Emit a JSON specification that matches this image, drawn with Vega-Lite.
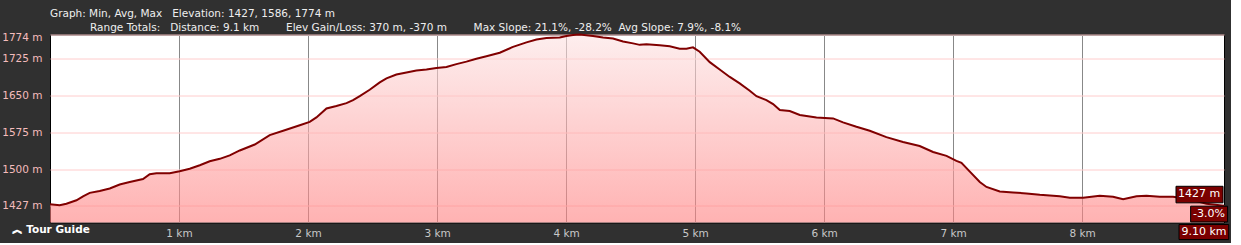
{
  "$schema": "https://vega.github.io/schema/vega-lite/v6.json",
  "width": 1174,
  "height": 188,
  "padding": {"left": 0, "top": 8.5, "right": 0, "bottom": 0},
  "background": "#303030",
  "config": {
    "view": {"fill": "white", "stroke": "#000000", "strokeWidth": 1},
    "font": "DejaVu Sans"
  },
  "title": {
    "text": "Graph: Min, Avg, Max\u00a0\u00a0\u00a0Elevation: 1427, 1586, 1774 m",
    "subtitle": "\u200b\u00a0\u00a0\u00a0\u00a0\u00a0\u00a0\u00a0\u00a0\u00a0\u00a0\u00a0\u00a0Range Totals:\u00a0\u00a0\u00a0Distance: 9.1 km\u00a0\u00a0\u00a0\u00a0\u00a0\u00a0\u00a0\u00a0Elev Gain/Loss: 370 m, -370 m\u00a0\u00a0\u00a0\u00a0\u00a0\u00a0\u00a0\u00a0Max Slope: 21.1%, -28.2%\u00a0\u00a0Avg Slope: 7.9%, -8.1%",
    "anchor": "start",
    "frame": "group",
    "font": "DejaVu Sans",
    "fontSize": 10.5,
    "fontWeight": "normal",
    "color": "#eeeeee",
    "subtitleFont": "DejaVu Sans",
    "subtitleFontSize": 10.5,
    "subtitleColor": "#eeeeee",
    "subtitlePadding": 3.5,
    "offset": -3
  },
  "data": {
    "values": [
      {"km": 0, "elev": 1430}, {"km": 0.075, "elev": 1428}, {"km": 0.127, "elev": 1431}, {"km": 0.205, "elev": 1438},
      {"km": 0.256, "elev": 1446}, {"km": 0.308, "elev": 1453}, {"km": 0.385, "elev": 1457}, {"km": 0.463, "elev": 1462},
      {"km": 0.54, "elev": 1470}, {"km": 0.618, "elev": 1475}, {"km": 0.721, "elev": 1481}, {"km": 0.773, "elev": 1491},
      {"km": 0.825, "elev": 1493}, {"km": 0.928, "elev": 1493}, {"km": 1.005, "elev": 1497}, {"km": 1.083, "elev": 1502},
      {"km": 1.161, "elev": 1509}, {"km": 1.238, "elev": 1517}, {"km": 1.316, "elev": 1522}, {"km": 1.393, "elev": 1529},
      {"km": 1.471, "elev": 1539}, {"km": 1.587, "elev": 1551}, {"km": 1.703, "elev": 1570}, {"km": 1.819, "elev": 1580},
      {"km": 1.936, "elev": 1590}, {"km": 2.013, "elev": 1597}, {"km": 2.065, "elev": 1606}, {"km": 2.143, "elev": 1624},
      {"km": 2.22, "elev": 1629}, {"km": 2.298, "elev": 1635}, {"km": 2.349, "elev": 1641}, {"km": 2.401, "elev": 1649},
      {"km": 2.478, "elev": 1662}, {"km": 2.556, "elev": 1677}, {"km": 2.608, "elev": 1685}, {"km": 2.685, "elev": 1693},
      {"km": 2.763, "elev": 1697}, {"km": 2.84, "elev": 1701}, {"km": 2.918, "elev": 1703}, {"km": 2.995, "elev": 1706},
      {"km": 3.073, "elev": 1708}, {"km": 3.15, "elev": 1714}, {"km": 3.228, "elev": 1719}, {"km": 3.305, "elev": 1725},
      {"km": 3.383, "elev": 1730}, {"km": 3.486, "elev": 1737}, {"km": 3.589, "elev": 1749}, {"km": 3.693, "elev": 1758},
      {"km": 3.771, "elev": 1764}, {"km": 3.848, "elev": 1767}, {"km": 3.951, "elev": 1768}, {"km": 4.003, "elev": 1771},
      {"km": 4.054, "elev": 1773}, {"km": 4.106, "elev": 1774}, {"km": 4.209, "elev": 1771}, {"km": 4.287, "elev": 1768},
      {"km": 4.364, "elev": 1766}, {"km": 4.442, "elev": 1760}, {"km": 4.519, "elev": 1756}, {"km": 4.571, "elev": 1753},
      {"km": 4.623, "elev": 1754}, {"km": 4.726, "elev": 1752}, {"km": 4.804, "elev": 1750}, {"km": 4.881, "elev": 1745},
      {"km": 4.933, "elev": 1745}, {"km": 4.984, "elev": 1748}, {"km": 5.036, "elev": 1739}, {"km": 5.114, "elev": 1718},
      {"km": 5.191, "elev": 1703}, {"km": 5.269, "elev": 1688}, {"km": 5.346, "elev": 1675}, {"km": 5.424, "elev": 1660},
      {"km": 5.476, "elev": 1649}, {"km": 5.553, "elev": 1641}, {"km": 5.605, "elev": 1633}, {"km": 5.657, "elev": 1621},
      {"km": 5.734, "elev": 1619}, {"km": 5.812, "elev": 1611}, {"km": 5.941, "elev": 1606}, {"km": 6.07, "elev": 1604},
      {"km": 6.147, "elev": 1596}, {"km": 6.251, "elev": 1587}, {"km": 6.354, "elev": 1579}, {"km": 6.483, "elev": 1566},
      {"km": 6.612, "elev": 1556}, {"km": 6.741, "elev": 1548}, {"km": 6.845, "elev": 1536}, {"km": 6.949, "elev": 1528},
      {"km": 7.026, "elev": 1518}, {"km": 7.065, "elev": 1514}, {"km": 7.13, "elev": 1496}, {"km": 7.207, "elev": 1475},
      {"km": 7.259, "elev": 1465}, {"km": 7.362, "elev": 1456}, {"km": 7.465, "elev": 1454}, {"km": 7.569, "elev": 1452},
      {"km": 7.672, "elev": 1449}, {"km": 7.827, "elev": 1446}, {"km": 7.905, "elev": 1443}, {"km": 8.008, "elev": 1443},
      {"km": 8.137, "elev": 1447}, {"km": 8.24, "elev": 1445}, {"km": 8.318, "elev": 1440}, {"km": 8.422, "elev": 1446},
      {"km": 8.499, "elev": 1447}, {"km": 8.602, "elev": 1445}, {"km": 8.705, "elev": 1445}, {"km": 8.835, "elev": 1440},
      {"km": 8.964, "elev": 1431}, {"km": 9.1, "elev": 1427}
    ]
  },
  "encoding": {
    "x": {
      "field": "km",
      "type": "quantitative",
      "scale": {"domain": [0, 9.1], "nice": false, "zero": false},
      "axis": {
        "values": [1, 2, 3, 4, 5, 6, 7, 8],
        "labelExpr": "datum.value + ' km'",
        "domain": false,
        "ticks": false,
        "grid": true,
        "gridColor": "#888888",
        "gridWidth": 1,
        "labelColor": "#c8c8c8",
        "labelFont": "DejaVu Sans",
        "labelFontSize": 10.5,
        "labelPadding": 6,
        "title": "\ufe3d Tour Guide",
        "titleX": -39,
        "titleY": 7,
        "titleAlign": "left",
        "titleBaseline": "middle",
        "titleColor": "#ffffff",
        "titleFont": "DejaVu Sans",
        "titleFontWeight": "bold",
        "titleFontSize": 10.5
      }
    },
    "y": {
      "field": "elev",
      "type": "quantitative",
      "scale": {"domain": [1393, 1774], "nice": false, "zero": false},
      "axis": {
        "values": [1427, 1500, 1575, 1650, 1725, 1774],
        "labelExpr": "datum.value + ' m'",
        "title": null,
        "domain": false,
        "ticks": false,
        "grid": true,
        "gridColor": "#ffcccc",
        "gridWidth": 1,
        "labelColor": "#f4bcbc",
        "labelFont": "DejaVu Sans",
        "labelFontSize": 10.5,
        "labelPadding": 8,
        "labelFlush": 2,
        "labelFlushOffset": 2,
        "minExtent": 50,
        "maxExtent": 50
      }
    }
  },
  "layer": [
    {
      "mark": {
        "type": "area",
        "interpolate": "linear",
        "fillOpacity": 0.6,
        "color": {
          "gradient": "linear",
          "x1": 0, "y1": 0, "x2": 0, "y2": 1,
          "stops": [
            {"offset": 0, "color": "#fce3e3"},
            {"offset": 1, "color": "#ff7f7f"}
          ]
        },
        "line": {"color": "#800000", "strokeWidth": 2}
      },
      "encoding": {
        "y2": {"datum": 1393}
      }
    },
    {
      "transform": [{"filter": "datum.km == 9.1"}],
      "mark": {
        "type": "point",
        "shape": "M-2,-0.81H-0.04V-0.12H-2Z M-1.39,0.02H0.15V0.675H-1.39Z M-1.875,0.783H0.196V1.41H-1.875Z",
        "size": 2304,
        "filled": true,
        "fill": "#7a0000",
        "stroke": "#000000",
        "strokeWidth": 1,
        "opacity": 1
      }
    },
    {
      "transform": [{"filter": "datum.km == 9.1"}],
      "mark": {"type": "text", "text": "1427 m", "dx": -25, "dy": -11.5, "color": "#ffffff", "font": "DejaVu Sans", "fontSize": 11, "align": "center", "baseline": "middle"}
    },
    {
      "transform": [{"filter": "datum.km == 9.1"}],
      "mark": {"type": "text", "text": "-3.0%", "dx": -15, "dy": 8.5, "color": "#ffffff", "font": "DejaVu Sans", "fontSize": 11, "align": "center", "baseline": "middle"}
    },
    {
      "transform": [{"filter": "datum.km == 9.1"}],
      "mark": {"type": "text", "text": "9.10 km", "dx": -20, "dy": 26.5, "color": "#ffffff", "font": "DejaVu Sans", "fontSize": 11, "align": "center", "baseline": "middle"}
    }
  ]
}
